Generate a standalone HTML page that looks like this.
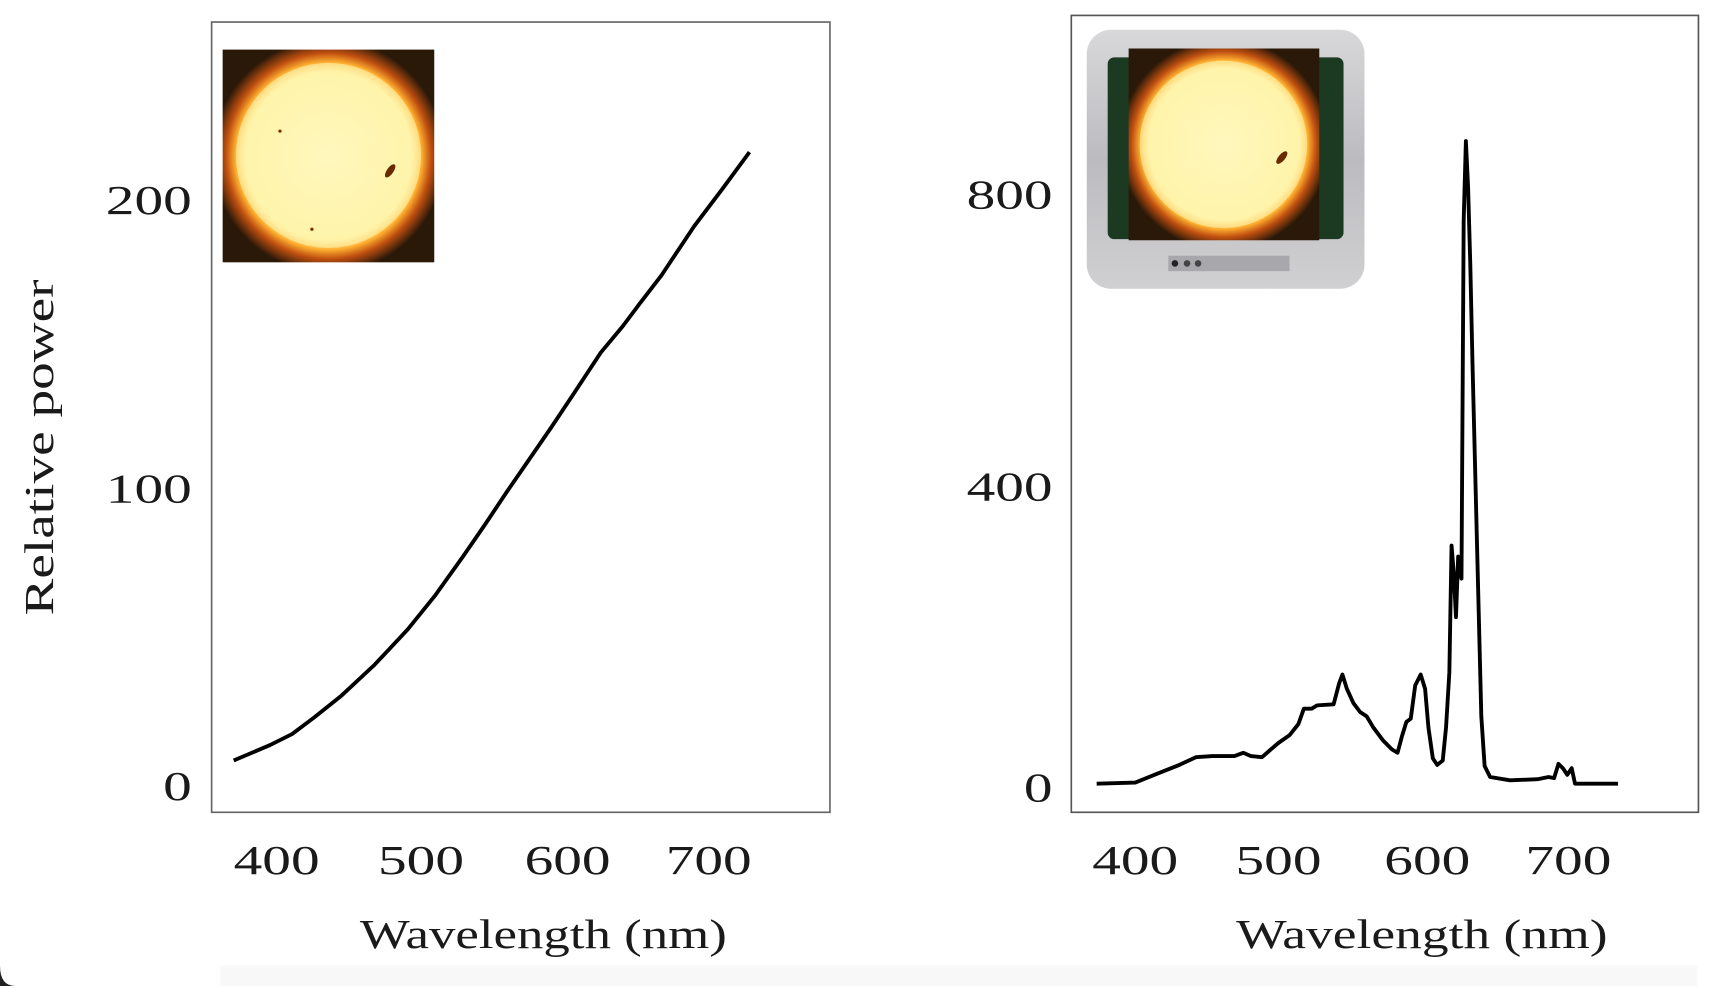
<!DOCTYPE html>
<html><head><meta charset="utf-8"><style>
html,body{margin:0;padding:0;background:#fff;width:1726px;height:986px;overflow:hidden}
svg{display:block}
text{font-family:"Liberation Serif",serif;fill:#1a1a1a}
</style></head><body>
<svg width="1726" height="986" viewBox="0 0 1566 894.6" preserveAspectRatio="none" xmlns="http://www.w3.org/2000/svg">
<defs>
<radialGradient id="sun" cx="50%" cy="50%" r="55%">
<stop offset="0" stop-color="#fffbd0"/>
<stop offset="0.72" stop-color="#fff2a0"/>
<stop offset="0.8" stop-color="#ffb030"/>
<stop offset="0.88" stop-color="#c05010"/>
<stop offset="1" stop-color="#2a1808"/>
</radialGradient>
<linearGradient id="tv" x1="0" y1="0" x2="0" y2="1">
<stop offset="0" stop-color="#d8d8da"/><stop offset="0.5" stop-color="#bcbcc0"/><stop offset="1" stop-color="#d0d0d2"/>
</linearGradient>
</defs>
<rect x="0" y="0" width="1566" height="894.6" fill="#fff"/>
<!-- left plot -->
<rect x="192" y="20" width="561" height="717" fill="none" stroke="#666" stroke-width="1.5"/>
<rect x="202" y="45" width="192" height="193" fill="url(#sun)"/>
<circle cx="298" cy="141" r="84" fill="#fff5b0" opacity="0.6"/>
<ellipse cx="354" cy="155" rx="3" ry="7" fill="#6a2a00" transform="rotate(35 354 155)"/>
<circle cx="254" cy="119" r="1.5" fill="#7a3000"/><circle cx="283" cy="208" r="1.5" fill="#7a3000"/>
<polyline fill="none" stroke="#000" stroke-width="3.5" stroke-linejoin="round" points="212,690 245,676 265,666 285,651 310,631 340,603 370,571 395,540 420,505 440,476 460,446 480,417 500,388 520,358 545,320 565,296 580,276 600,250 630,205 655,172 680,138"/>
<g font-size="37" text-anchor="end">
<text x="174" y="194" textLength="78" lengthAdjust="spacingAndGlyphs">200</text>
<text x="174" y="456" textLength="78" lengthAdjust="spacingAndGlyphs">100</text>
<text x="174" y="726" textLength="26" lengthAdjust="spacingAndGlyphs">0</text>
</g>
<g font-size="37" text-anchor="middle">
<text x="251" y="793" textLength="78" lengthAdjust="spacingAndGlyphs">400</text>
<text x="382" y="793" textLength="78" lengthAdjust="spacingAndGlyphs">500</text>
<text x="515" y="793" textLength="78" lengthAdjust="spacingAndGlyphs">600</text>
<text x="643" y="793" textLength="78" lengthAdjust="spacingAndGlyphs">700</text>
<text x="493" y="860" textLength="333" lengthAdjust="spacingAndGlyphs">Wavelength (nm)</text>
<text transform="translate(48 406) rotate(-90)" textLength="305" lengthAdjust="spacingAndGlyphs">Relative power</text>
</g>
<!-- right plot -->
<rect x="972" y="14" width="569" height="723" fill="none" stroke="#555" stroke-width="1.5"/>
<rect x="986" y="27" width="252" height="235" rx="22" fill="url(#tv)"/>
<rect x="1005" y="52" width="214" height="165" rx="6" fill="#1c3a22"/>
<rect x="1024" y="44" width="173" height="174" fill="url(#sun)"/>
<circle cx="1110" cy="131" r="76" fill="#fff5b0" opacity="0.6"/>
<ellipse cx="1163" cy="143" rx="3" ry="7" fill="#6a2a00" transform="rotate(40 1163 143)"/>
<rect x="1060" y="232" width="110" height="14" fill="#a8a8ac"/>
<circle cx="1066" cy="239" r="3" fill="#222"/><circle cx="1077" cy="239" r="3" fill="#444"/><circle cx="1087" cy="239" r="3" fill="#444"/>
<polyline fill="none" stroke="#000" stroke-width="3.5" stroke-linejoin="round" points="995,711 1030,710 1050,702 1070,694 1085,687 1100,686 1120,686 1128,683 1135,686 1145,687 1153,680 1160,674 1170,667 1178,657 1183,643 1190,643 1195,640 1210,639 1215,620 1218,612 1222,625 1228,638 1234,646 1240,650 1246,660 1255,672 1263,680 1268,683 1272,668 1276,655 1280,652 1284,622 1289,612 1293,625 1296,660 1300,688 1304,694 1309,690 1312,660 1315,610 1317,495 1319,520 1321,560 1323,505 1326,525 1328,200 1330,128 1332,170 1334,240 1336,330 1340,490 1344,650 1347,695 1352,705 1370,708 1395,707 1405,705 1410,706 1414,693 1418,697 1422,703 1426,697 1429,711 1468,711"/>
<g font-size="37" text-anchor="end">
<text x="955" y="189" textLength="78" lengthAdjust="spacingAndGlyphs">800</text>
<text x="955" y="454" textLength="78" lengthAdjust="spacingAndGlyphs">400</text>
<text x="955" y="727" textLength="26" lengthAdjust="spacingAndGlyphs">0</text>
</g>
<g font-size="37" text-anchor="middle">
<text x="1030" y="793" textLength="78" lengthAdjust="spacingAndGlyphs">400</text>
<text x="1160" y="793" textLength="78" lengthAdjust="spacingAndGlyphs">500</text>
<text x="1295" y="793" textLength="78" lengthAdjust="spacingAndGlyphs">600</text>
<text x="1423" y="793" textLength="78" lengthAdjust="spacingAndGlyphs">700</text>
<text x="1290" y="860" textLength="337" lengthAdjust="spacingAndGlyphs">Wavelength (nm)</text>
</g>
<rect x="200" y="876" width="1340" height="19" fill="#f8f8f8"/>
<path d="M0,876 Q0,894.6 14,894.6 L0,894.6 Z" fill="#222"/>
</svg>
</body></html>
